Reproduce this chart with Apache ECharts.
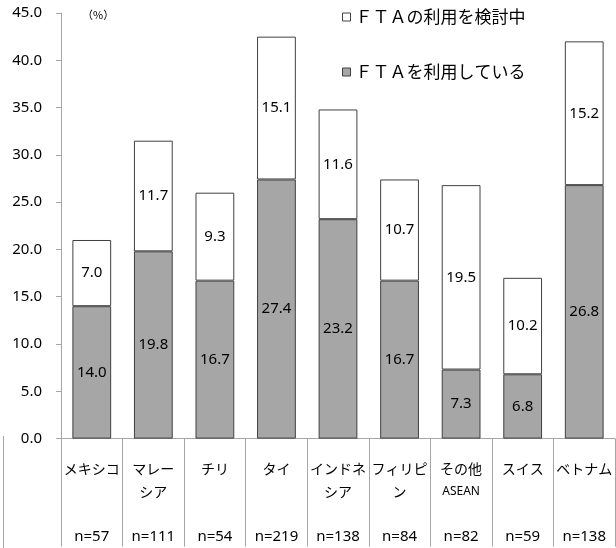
<!DOCTYPE html>
<html>
<head>
<meta charset="utf-8">
<script src="https://cdn.jsdelivr.net/npm/echarts@6/dist/echarts.min.js"></script>
<style>
  html, body { margin: 0; padding: 0; background: #fff; }
  #chart { width: 616px; height: 548px; }
</style>
</head>
<body>
<div id="chart"></div>
<script>
// Countries / regions (line breaks as they wrap under each column)
const categories = ['メキシコ', 'マレー\nシア', 'チリ', 'タイ', 'インドネ\nシア', 'フィリピ\nン', 'その他\nASEAN', 'スイス', 'ベトナム'];
// Number of respondents per column
const sampleSizes = [57, 111, 54, 219, 138, 84, 82, 59, 138];
// Share already using an FTA (%)
const usingFta = [14.0, 19.8, 16.7, 27.4, 23.2, 16.7, 7.3, 6.8, 26.8];
// Share considering FTA use (%)
const consideringFta = [7.0, 11.7, 9.3, 15.1, 11.6, 10.7, 19.5, 10.2, 15.2];
// Value axis ticks
const yTicks = [0, 5, 10, 15, 20, 25, 30, 35, 40, 45];

const seriesUsing = 'ＦＴＡを利用している';
const seriesConsidering = 'ＦＴＡの利用を検討中';

const latin = '"Noto Sans", "Noto Sans CJK JP", sans-serif';
const cjk = '"Noto Sans CJK JP", "Noto Sans", sans-serif';
const gridLine = '#a6a6a6';
const barEdge = '#404040';
const LINE_H = 22.7;

const chart = echarts.init(document.getElementById('chart'), null, { renderer: 'canvas' });

const valueLabel = {
  show: true,
  position: 'inside',
  color: '#000',
  fontFamily: latin,
  fontSize: 15,
  formatter: p => p.value.toFixed(1)
};

const legendText = { fontFamily: cjk, fontSize: 17, color: '#000', lineHeight: 18 };

chart.setOption({
  animation: false,
  backgroundColor: '#fff',
  grid: { left: 61, right: 1, top: 13, bottom: 108, containLabel: false },
  legend: [
    {
      data: [seriesConsidering],
      left: 342, top: 8, padding: 0,
      itemWidth: 8, itemHeight: 8, itemGap: 0,
      icon: 'rect',
      itemStyle: { color: '#fff', borderColor: barEdge, borderWidth: 1 },
      textStyle: legendText
    },
    {
      data: [seriesUsing],
      left: 342, top: 63, padding: 0,
      itemWidth: 8, itemHeight: 8, itemGap: 0,
      icon: 'rect',
      itemStyle: { color: '#a6a6a6', borderColor: barEdge, borderWidth: 1 },
      textStyle: legendText
    }
  ],
  xAxis: {
    type: 'category',
    data: categories,
    boundaryGap: true,
    axisLine: { show: true, lineStyle: { color: gridLine, width: 1 } },
    axisTick: { show: true, length: 108, lineStyle: { color: gridLine, width: 1 } },
    axisLabel: {
      interval: 0,
      margin: 18.6,
      color: '#000',
      fontFamily: cjk,
      fontSize: 14,
      lineHeight: LINE_H,
      align: 'center',
      formatter: (name, idx) => {
        const lines = name.split('\n').map(s => s === 'ASEAN' ? '{s|ASEAN}' : s);
        while (lines.length < 3) lines.push(' ');
        lines.push('{n|n=' + sampleSizes[idx] + '}');
        return lines.join('\n');
      },
      rich: {
        s: { fontFamily: latin, fontSize: 12, color: '#000', lineHeight: LINE_H },
        n: { fontFamily: latin, fontSize: 15, color: '#000', lineHeight: LINE_H }
      }
    },
    splitLine: { show: false }
  },
  yAxis: {
    type: 'value',
    min: yTicks[0],
    max: yTicks[yTicks.length - 1],
    interval: yTicks[1] - yTicks[0],
    axisLine: { show: true, lineStyle: { color: gridLine, width: 1 } },
    axisTick: { show: true, length: 5, lineStyle: { color: gridLine, width: 1 } },
    axisLabel: {
      margin: 19,
      color: '#000',
      fontFamily: latin,
      fontSize: 15,
      formatter: v => v.toFixed(1)
    },
    splitLine: { show: false }
  },
  series: [
    {
      name: seriesUsing,
      type: 'bar',
      stack: 'fta',
      barWidth: '63%',
      data: usingFta,
      itemStyle: { color: '#a6a6a6', borderColor: barEdge, borderWidth: 1 },
      label: valueLabel
    },
    {
      name: seriesConsidering,
      type: 'bar',
      stack: 'fta',
      barWidth: '63%',
      data: consideringFta,
      itemStyle: { color: '#ffffff', borderColor: barEdge, borderWidth: 1 },
      label: valueLabel
    }
  ],
  graphic: [
    {
      type: 'text',
      left: 82, top: 9,
      style: { text: '（%）', fontFamily: cjk, fontSize: 11, fill: '#000' }
    },
    {
      type: 'line',
      shape: { x1: 3.5, y1: 436, x2: 3.5, y2: 548 },
      style: { stroke: gridLine, lineWidth: 1 }
    }
  ]
});
</script>
</body>
</html>
